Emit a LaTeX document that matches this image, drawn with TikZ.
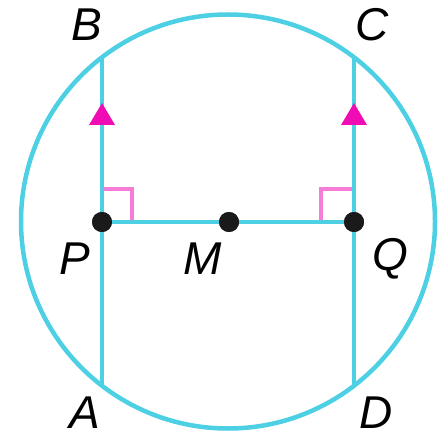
\documentclass[tikz,border=0pt]{standalone}
\usepackage{fontspec}
\setmainfont{Liberation Sans}
\definecolor{cyanline}{RGB}{77,208,228}
\definecolor{rapink}{RGB}{245,125,215}
\definecolor{tickmag}{RGB}{240,12,180}
\definecolor{dotblack}{RGB}{26,26,26}
\begin{document}
\begin{tikzpicture}[x=1pt,y=-1pt,
  geo/.style={draw=cyanline,line width=4.5pt},
  ramark/.style={draw=rapink,line width=3.5pt},
  tick/.style={fill=tickmag,draw=none},
  pt/.style={circle,fill=dotblack,inner sep=0pt,minimum size=20pt},
  lbl/.style={font=\fontsize{46}{46}\selectfont\itshape,inner sep=0pt}]
\useasboundingbox (0,0) rectangle (446,438);
% circle
\coordinate (O) at (228,221.5);
\draw[geo] (O) circle[radius=207pt];
% chord end points
\coordinate (B) at (102,57.3);
\coordinate (A) at (102,385.7);
\coordinate (C) at (354,57.3);
\coordinate (D) at (354,385.7);
% right angle marks
\draw[ramark] (102,189) -- (132,189) -- (132,222);
\draw[ramark] (354,189) -- (321,189) -- (321,222);
% lines
\draw[geo] (B) -- (A);
\draw[geo] (C) -- (D);
\node[pt] (P) at (102,222) {};
\node[pt] (Q) at (354,222) {};
\node[pt] (M) at (229,222) {};
\draw[geo] (P) -- (M);
\draw[geo] (M) -- (Q);
% redraw dots on top
\node[pt] at (P) {};
\node[pt] at (Q) {};
\node[pt] at (M) {};
% tick marks
\fill[tick] (102,103) -- (115,125) -- (89,125) -- cycle;
\fill[tick] (354,103) -- (367,125) -- (341,125) -- cycle;
% labels
\node[lbl] (lB) at (87,25) {B};
\node[lbl] (lC) at (372,25) {C};
\node[lbl] (lP) at (75,259) {P};
\node[lbl] (lM) at (203,259) {M};
\node[lbl] (lQ) at (390,259) {Q};
\node[lbl] (lA) at (85,413) {A};
\node[lbl] (lD) at (376,413) {D};
\end{tikzpicture}
\end{document}
